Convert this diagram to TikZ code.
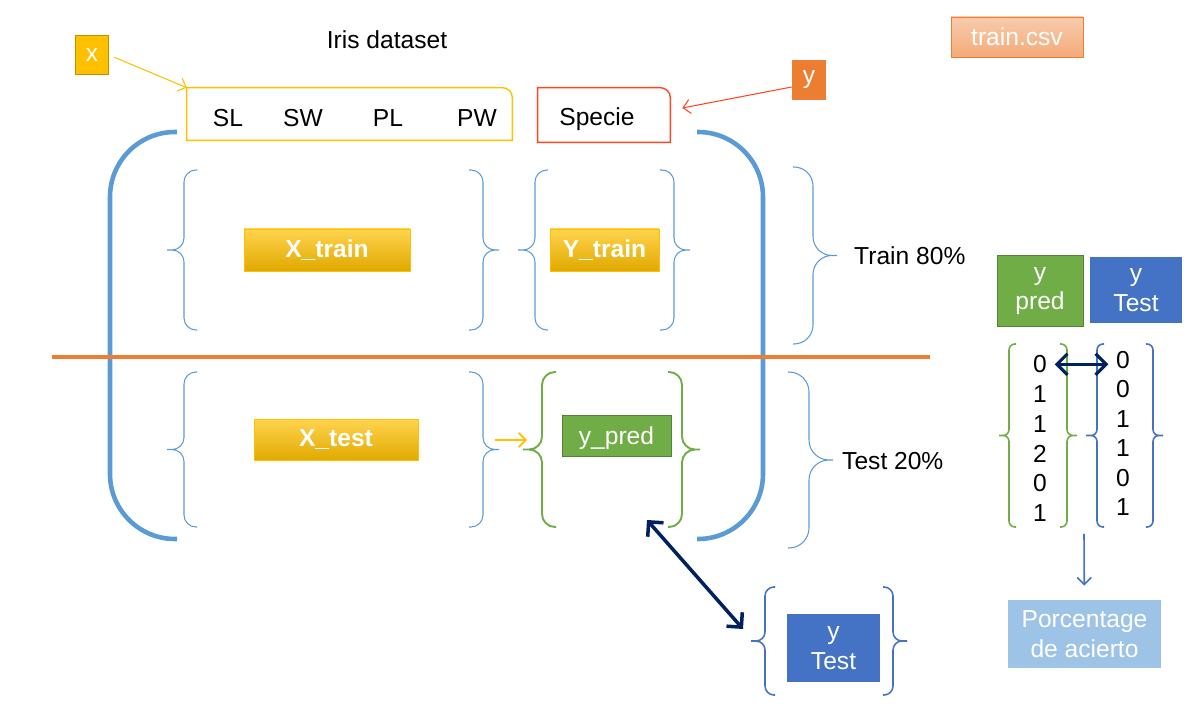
\documentclass[tikz,border=0pt]{standalone}
\usepackage{fontspec}
\setmainfont{Liberation Sans}
\usetikzlibrary{arrows.meta}
\definecolor{IrisBlue}{RGB}{91,155,213}
\definecolor{IrisDeepBlue}{RGB}{68,114,196}
\definecolor{IrisGreen}{RGB}{112,173,71}
\definecolor{IrisDarkGreen}{RGB}{84,130,53}
\definecolor{IrisOrange}{RGB}{237,125,49}
\definecolor{IrisGold}{RGB}{255,192,0}
\definecolor{IrisRed}{RGB}{255,70,30}
\definecolor{IrisNavy}{RGB}{0,32,96}
\definecolor{IrisSky}{RGB}{157,195,230}
\tikzset{%
  px grid/.style={x=0.02cm,y=-0.02cm},
  base text/.style={font=\fontsize{14}{16.8}\selectfont},
  gold box/.style={draw=IrisGold, top color=IrisGold!70!white, middle color=IrisGold,
    bottom color=IrisGold!88!black, text=white, font=\fontsize{14}{16.8}\selectfont\bfseries,
    minimum height=0.84cm, inner sep=0pt},
  tag box/.style={base text, text=white, inner sep=0pt, align=center},
  thin brace/.style={draw=IrisBlue, line width=0.6pt, rounded corners=#1},
  thin brace/.default=0.24cm,
  thin arrow/.style={-{Straight Barb[length=4pt,width=8pt]}},
  pair arrow/.style={{Straight Barb[length=6pt,width=12pt]}-{Straight Barb[length=6pt,width=12pt]},
    draw=IrisNavy, line width=2pt}
}
% brace: ends x, inner x, tip x, top y, bottom y
\newcommand{\curlybrace}[6][]{%
  \draw[#1] (#4,{(#5+#6)/2}) -- (#3,{(#5+#6)/2}) -- (#3,#5) -- (#2,#5)
            (#4,{(#5+#6)/2}) -- (#3,{(#5+#6)/2}) -- (#3,#6) -- (#2,#6);}

\begin{document}
\begin{tikzpicture}[px grid]
  \useasboundingbox (0,0) rectangle (1187,715);
  % header: features and labels
  \node[base text] (title) at (387,40) {Iris dataset};
  \node[tag box, fill=IrisGold, draw=IrisGold!75!black, minimum width=0.66cm,
    minimum height=0.78cm] (xtag) at (92,55) {x};
  \node[minimum width=6.5cm, minimum height=1.04cm] (feats) at (349.5,114) {};
  \foreach \name/\xx in {SL/228, SW/303, PL/388, PW/477} {
    \node[base text] (\name) at (\xx,118) {\name};
  }
  \draw[IrisGold, line width=0.8pt] (feats.south west) |- ([xshift=-0.2cm]feats.north east)
    arc[start angle=90, end angle=0, radius=0.2cm] -- (feats.south east) -- cycle;
  \node[minimum width=2.64cm, minimum height=1.08cm] (specie) at (604,115) {};
  \node[base text] (speciename) at (597,119) {Specie};
  \draw[IrisRed, line width=0.8pt] (specie.south west) |- ([xshift=-0.2cm]specie.north east)
    arc[start angle=90, end angle=0, radius=0.2cm] -- (specie.south east) -- cycle;
  \node[tag box, fill=IrisOrange, minimum width=0.68cm, minimum height=0.8cm] (ytag) at (809,80) {y};
  \node[tag box, draw=IrisOrange, top color=IrisOrange!40!white, bottom color=IrisOrange!65!white,
    minimum width=2.64cm, minimum height=0.8cm] (csv) at (1017,37) {train.csv};
  \draw[thin arrow, IrisGold, line width=0.6pt, shorten <=0.12cm] (xtag.east) -- (feats.north west);
  \draw[thin arrow, IrisRed, line width=0.6pt]
    ([yshift=-0.14cm]ytag.west) -- ([xshift=0.24cm,yshift=0.14cm]specie.east);
  % the whole dataset
  \draw[IrisBlue, line width=2.6pt, rounded corners=1.3cm] (177,132) -- (110,132) -- (110,539) -- (177,539);
  \draw[IrisBlue, line width=2.6pt, rounded corners=1.3cm] (697,132) -- (763,132) -- (763,539) -- (697,539);
  \draw[IrisOrange, line width=2.4pt] (52,357) -- (930,357);
  % Train part:
  \curlybrace[thin brace]{197}{184}{167}{170}{330}
  \curlybrace[thin brace]{469}{483}{499}{170}{330}
  \curlybrace[thin brace]{548}{535}{518}{170}{330}
  \curlybrace[thin brace]{660}{674}{690}{170}{330}
  \node[gold box, minimum width=3.32cm] (xtrain) at (327,250) {X\_train};
  \node[gold box, minimum width=2.18cm] (ytrain) at (604.5,250) {Y\_train};
  % Test part:
  \curlybrace[thin brace]{197}{184}{167}{372}{527}
  \curlybrace[thin brace]{469}{483}{499}{372}{527}
  \curlybrace[thin brace=0.26cm, draw=IrisGreen, line width=1.1pt]{556}{542}{523}{372}{527}
  \curlybrace[thin brace=0.26cm, draw=IrisGreen, line width=1.1pt]{668}{682}{700}{372}{527}
  \node[gold box, minimum width=3.28cm, minimum height=0.82cm] (xtest) at (336,440) {X\_test};
  \node[tag box, text depth=0pt, fill=IrisGreen, draw=IrisDarkGreen, minimum width=2.18cm,
    minimum height=0.82cm] (ypred) at (616.5,435.5) {y\_pred};
  \coordinate (xtestend) at (495,440);
  \coordinate (predstart) at (527,440);
  \draw[thin arrow, IrisGold, line width=1pt] (xtestend) -- (predstart);
  % split
  \curlybrace[thin brace=0.38cm]{793}{813}{837}{167}{344}
  \curlybrace[thin brace=0.4cm]{788}{809}{833}{372}{548}
  \node[base text, anchor=west] (trainpct) at (848,256) {Train 80\%};
  \node[base text, anchor=west] (testpct) at (836,461) {Test 20\%};
  % compare with y Test
  \curlybrace[thin brace=0.18cm, draw=IrisDeepBlue, line width=0.9pt]{775}{765}{751}{587}{695}
  \curlybrace[thin brace=0.18cm, draw=IrisDeepBlue, line width=0.9pt]{883}{893}{907}{587}{695}
  \node[tag box, fill=IrisDeepBlue, minimum width=1.86cm, minimum height=1.36cm] (ytest) at (833.5,648) {y\\Test};
  \coordinate (predcorner) at (647,520);
  \coordinate (testtip) at (743,629);
  \draw[pair arrow] (predcorner) -- (testtip);
  % right column
  \node[tag box, fill=IrisGreen, draw=IrisDarkGreen, minimum width=1.72cm,
    minimum height=1.42cm] (predhead) at (1040,291) {y\\pred};
  \node[tag box, fill=IrisDeepBlue, minimum width=1.84cm, minimum height=1.34cm] (testhead) at (1136,290) {y\\Test};
  \curlybrace[thin brace=0.12cm, draw=IrisGreen, line width=0.9pt]{1016}{1009}{999}{344}{527}
  \curlybrace[thin brace=0.12cm, draw=IrisGreen, line width=0.9pt]{1060}{1067}{1077}{344}{527}
  \curlybrace[thin brace=0.12cm, draw=IrisDeepBlue, line width=0.9pt]{1104}{1097}{1086}{344}{527}
  \curlybrace[thin brace=0.12cm, draw=IrisDeepBlue, line width=0.9pt]{1146}{1153}{1163}{344}{527}
  \foreach \v [count=\i] in {0,1,1,2,0,1} {
    \node[base text, inner sep=2pt] (p\i) at (1040,334.5+\i*29.8) {\v};
  }
  \foreach \v [count=\i] in {0,0,1,1,0,1} {
    \node[base text, inner sep=2pt] (t\i) at (1123,330.5+\i*29.5) {\v};
  }
  \draw[pair arrow, line width=1.8pt, shorten <=0.08cm, shorten >=0.08cm] (p1.east) -- (p1.east -| t1.west);
  \coordinate (cmp) at (1084,534);
  \node[tag box, fill=IrisSky, minimum width=3.06cm, minimum height=1.36cm] (score) at (1084.5,634) {Porcentage\\de acierto};
  \draw[thin arrow, IrisDeepBlue, line width=0.9pt, shorten >=0.28cm] (cmp) -- (score);
\end{tikzpicture}
\end{document}
